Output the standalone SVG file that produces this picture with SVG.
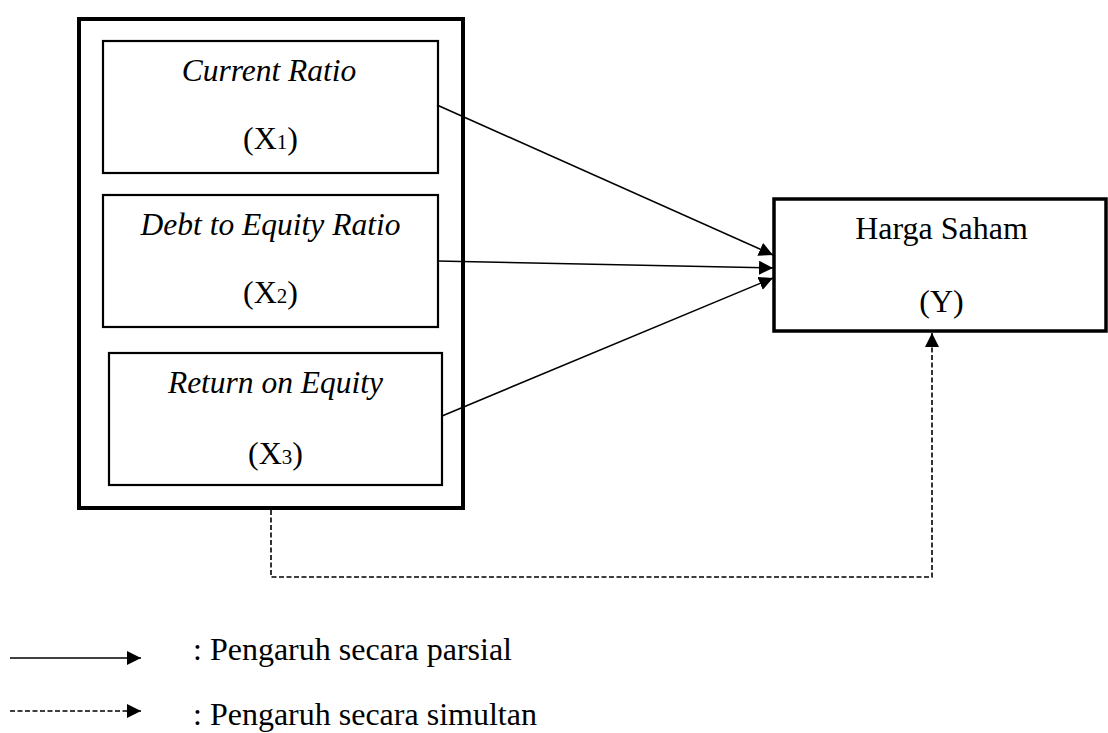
<svg xmlns="http://www.w3.org/2000/svg" width="1108" height="733" viewBox="0 0 1108 733">
<style>
.t{font-family:"Liberation Serif","Times New Roman",serif;font-size:32px;fill:#000}
.i{font-style:italic;font-size:31.5px}
.sub{font-size:21px}
.box{fill:#fff;stroke:#000;stroke-width:2.2}
.outer{fill:none;stroke:#000;stroke-width:4}
.ybox{fill:#fff;stroke:#000;stroke-width:3.5}
.ln{fill:none;stroke:#000;stroke-width:1.6}
.dash{fill:none;stroke:#000;stroke-width:1.6;stroke-dasharray:5 2.5}
</style>
<defs>
<marker id="ah" markerUnits="userSpaceOnUse" markerWidth="15" markerHeight="14" refX="14" refY="7" orient="auto">
<path d="M0,0 L14,7 L0,14 z" fill="#000"/>
</marker>
</defs>
<rect width="1108" height="733" fill="#fff"/>
<g id="group-X">
<rect class="outer" x="79" y="19" width="384" height="489"/>
</g>
<g id="node-X1">
<rect class="box" x="103" y="41" width="335" height="132"/>
<text class="t i" x="269" y="81" text-anchor="middle">Current Ratio</text>
<text class="t" x="270.5" y="149" text-anchor="middle">(X<tspan class="sub">1</tspan>)</text>
</g>
<g id="node-X2">
<rect class="box" x="103" y="195" width="335" height="132"/>
<text class="t i" x="270.5" y="235" text-anchor="middle">Debt to Equity Ratio</text>
<text class="t" x="270.5" y="303" text-anchor="middle">(X<tspan class="sub">2</tspan>)</text>
</g>
<g id="node-X3">
<rect class="box" x="109" y="353" width="333" height="132"/>
<text class="t i" x="275.5" y="393" text-anchor="middle">Return on Equity</text>
<text class="t" x="275.5" y="464" text-anchor="middle">(X<tspan class="sub">3</tspan>)</text>
</g>
<g id="node-Y">
<rect class="ybox" x="774" y="199" width="332" height="132"/>
<text class="t" x="941.5" y="239" text-anchor="middle">Harga Saham</text>
<text class="t" x="941.5" y="312" text-anchor="middle">(Y)</text>
</g>
<g id="connectors">
<line class="ln" x1="437" y1="105" x2="773" y2="255" marker-end="url(#ah)"/>
<line class="ln" x1="437" y1="261" x2="773" y2="268" marker-end="url(#ah)"/>
<line class="ln" x1="442" y1="416" x2="773" y2="278" marker-end="url(#ah)"/>
<polyline class="dash" points="271,510 271,577 932,577 932,333" marker-end="url(#ah)"/>
</g>
<g id="legend">
<line class="ln" x1="10" y1="658" x2="141" y2="658" marker-end="url(#ah)"/>
<text class="t" x="193" y="660">: Pengaruh secara parsial</text>
<line class="dash" x1="10" y1="711" x2="141" y2="711" marker-end="url(#ah)"/>
<text class="t" x="193" y="725">: Pengaruh secara simultan</text>
</g>
</svg>
